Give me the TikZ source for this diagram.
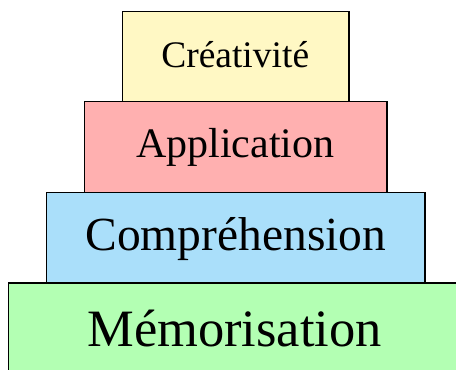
\documentclass[tikz,border=0pt]{standalone}
\usepackage{fontspec}
\setmainfont{Liberation Serif}
\definecolor{tierYellow}{RGB}{255,248,196}
\definecolor{tierPink}{RGB}{255,176,176}
\definecolor{tierBlue}{RGB}{170,223,250}
\definecolor{tierGreen}{RGB}{179,255,179}
\begin{document}
\begin{tikzpicture}[x=1pt,y=-1pt,
  tier/.style={draw=black, line width=1.4pt, rectangle, inner sep=0pt,
    minimum height=90.5pt},
  tierlabel/.style={anchor=base, inner sep=0pt, text=black}]
  \useasboundingbox (0,0) rectangle (456,370);
  \clip (0,0) rectangle (456,370);
  % stacked tiers, widest at the bottom
  \node[tier, fill=tierGreen,  minimum width=454.5pt] (memo)  at (235.7,328.2) {};
  \node[tier, fill=tierBlue,   minimum width=378.6pt] (compr) at (235.7,237.8) {};
  \node[tier, fill=tierPink,   minimum width=302.5pt] (appl)  at (235.7,147.0) {};
  \node[tier, fill=tierYellow, minimum width=226.5pt] (creat) at (235.7,56.5) {};
  % tier titles
  \node[tierlabel, font=\fontsize{52.5}{60}\selectfont] (memoT)  at (234.6,346.7) {Mémorisation};
  \node[tierlabel, font=\fontsize{47.5}{56}\selectfont] (comprT) at (235.8,250.0) {Compréhension};
  \node[tierlabel, font=\fontsize{42}{50}\selectfont]   (applT)  at (235.2,157.3) {Application};
  \node[tierlabel, font=\fontsize{37.5}{45}\selectfont] (creatT) at (235.2,67.7)  {Créativité};
\end{tikzpicture}
\end{document}
